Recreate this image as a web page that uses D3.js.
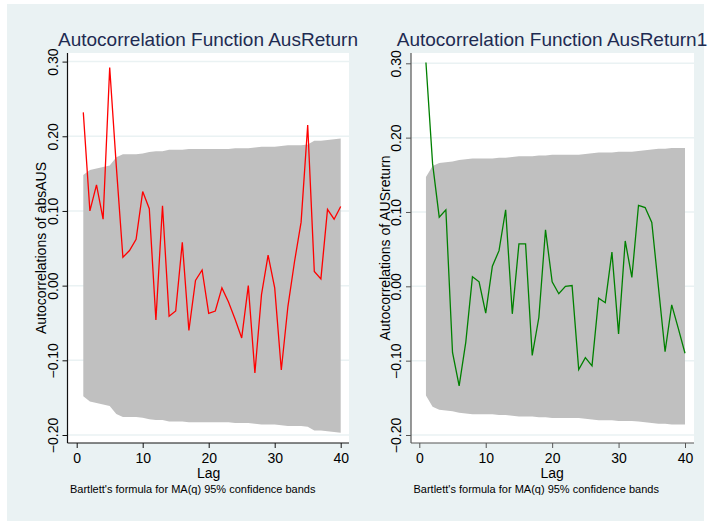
<!DOCTYPE html>
<html>
<head>
<meta charset="utf-8">
<script src="https://cdn.jsdelivr.net/npm/d3@7"></script>
<style>
  body { margin: 0; background: #fff; }
  svg { display: block; font-family: "Liberation Sans", Arial, sans-serif; }
</style>
</head>
<body>
<svg id="chart"></svg>
<script>
const width = 709;
const height = 521;

// lags 1..40
var lags = d3.range(1, 41);

// AusReturn (abs) autocorrelations
var acfAbs = [0.232, 0.100, 0.135, 0.089, 0.292, 0.160, 0.038, 0.047, 0.062, 0.126,
              0.103, -0.046, 0.107, -0.041, -0.034, 0.058, -0.060, 0.007, 0.021, -0.037,
              -0.034, -0.003, -0.022, -0.045, -0.070, 0.000, -0.117, -0.012, 0.041, -0.003,
              -0.113, -0.028, 0.032, 0.085, 0.215, 0.019, 0.009, 0.102, 0.089, 0.106];
var bandAbs = [0.148, 0.155, 0.157, 0.159, 0.161, 0.172, 0.176, 0.176, 0.176, 0.177,
               0.179, 0.180, 0.180, 0.182, 0.182, 0.182, 0.183, 0.183, 0.183, 0.183,
               0.183, 0.183, 0.183, 0.184, 0.184, 0.184, 0.185, 0.186, 0.186, 0.186,
               0.187, 0.188, 0.188, 0.188, 0.189, 0.194, 0.194, 0.195, 0.196, 0.197];

// AusReturn1 autocorrelations
var acfRet = [0.301, 0.165, 0.093, 0.103, -0.089, -0.134, -0.075, 0.013, 0.006, -0.036,
              0.027, 0.048, 0.103, -0.037, 0.057, 0.057, -0.093, -0.042, 0.076, 0.006,
              -0.010, 0.000, 0.001, -0.112, -0.096, -0.107, -0.016, -0.022, 0.046, -0.064,
              0.061, 0.012, 0.109, 0.106, 0.086, -0.001, -0.088, -0.025, -0.057, -0.090];
var bandRet = [0.147, 0.162, 0.166, 0.167, 0.168, 0.170, 0.171, 0.172, 0.172, 0.172,
               0.172, 0.173, 0.173, 0.174, 0.175, 0.175, 0.175, 0.176, 0.176, 0.177,
               0.177, 0.177, 0.177, 0.177, 0.178, 0.179, 0.180, 0.180, 0.180, 0.181,
               0.181, 0.181, 0.182, 0.183, 0.184, 0.185, 0.185, 0.186, 0.186, 0.186];

var yTicks = [-0.2, -0.1, 0, 0.1, 0.2, 0.3];
var xTicks = [0, 10, 20, 30, 40];

var titles = ["Autocorrelation Function AusReturn", "Autocorrelation Function AusReturn1"];
var yTitles = ["Autocorrelations of absAUS", "Autocorrelations of AUSreturn"];
var note = "Bartlett's formula for MA(q) 95% confidence bands";

var svg = d3.select("#chart").attr("width", width).attr("height", height);

svg.append("rect").attr("x", 7).attr("y", 4).attr("width", 697).attr("height", 517)
  .attr("fill", "#eaf2f3");

var panels = [
  {acf: acfAbs, band: bandAbs, color: "#ff0000", axisColor: "#111",
   left: 67.5, right: 349, top: 53, bottom: 443,
   xr: [76.7, 340.7], yr: [435, 61.6], title: titles[0], ytitle: yTitles[0], titleX: 208, ytX: 46},
  {acf: acfRet, band: bandRet, color: "#008000", axisColor: "#555",
   left: 411, right: 694, top: 53, bottom: 443,
   xr: [419.3, 685], yr: [435, 63.3], title: titles[1], ytitle: yTitles[1], titleX: 552, ytX: 390}
];

panels.forEach(function(p) {
  var g = svg.append("g");
  var x = d3.scaleLinear().domain([0, 40]).range(p.xr);
  var y = d3.scaleLinear().domain([-0.2, 0.3]).range(p.yr);

  // plot region
  g.append("rect").attr("x", p.left).attr("y", p.top)
    .attr("width", p.right - p.left).attr("height", p.bottom - p.top)
    .attr("fill", "#fff");

  // grid
  g.selectAll(".grid").data(yTicks).enter().append("line")
    .attr("x1", p.left).attr("x2", p.right)
    .attr("y1", d => y(d)).attr("y2", d => y(d))
    .attr("stroke", "#eaf2f3").attr("stroke-width", 1.5);

  // confidence band
  var area = d3.area()
    .x((d, i) => x(lags[i]))
    .y0(d => y(-d))
    .y1(d => y(d));
  g.append("path").datum(p.band).attr("d", area).attr("fill", "#c0c0c0");

  // acf line
  var line = d3.line().x((d, i) => x(lags[i])).y(d => y(d));
  g.append("path").datum(p.acf).attr("d", line)
    .attr("fill", "none").attr("stroke", p.color).attr("stroke-width", 1.3)
    .attr("stroke-linejoin", "miter");

  // y axis
  var yAxis = d3.axisLeft(y).tickValues(yTicks).tickSize(5).tickFormat(d3.format(".2f"));
  var ya = g.append("g").attr("transform", `translate(${p.left},0)`).call(yAxis);
  ya.select(".domain").attr("d", `M0,${p.top}V${p.bottom}`).attr("stroke", p.axisColor).attr("stroke-width", 1.2);
  ya.selectAll(".tick line").attr("stroke", p.axisColor);
  ya.selectAll(".tick text")
    .attr("x", null).attr("dy", null)
    .attr("transform", "translate(-10,0) rotate(-90)")
    .attr("text-anchor", "middle")
    .attr("font-size", 14).attr("font-family", "Liberation Sans, Arial, sans-serif")
    .attr("fill", "#000");

  // x axis
  var xAxis = d3.axisBottom(x).tickValues(xTicks).tickSize(5);
  var xa = g.append("g").attr("transform", `translate(0,${p.bottom})`).call(xAxis);
  xa.select(".domain").attr("d", `M${p.left},0H${p.right}`).attr("stroke", p.axisColor).attr("stroke-width", 1.2);
  xa.selectAll(".tick line").attr("stroke", p.axisColor);
  xa.selectAll(".tick text").attr("y", 7).attr("dy", "0.9em")
    .attr("font-size", 14).attr("font-family", "Liberation Sans, Arial, sans-serif")
    .attr("fill", "#000");

  // titles
  g.append("text").attr("x", p.titleX).attr("y", 46).attr("text-anchor", "middle")
    .attr("font-size", 19).attr("fill", "#1e2b52").text(p.title);
  g.append("text").attr("transform", `translate(${p.ytX},${(p.top + p.bottom) / 2}) rotate(-90)`)
    .attr("text-anchor", "middle").attr("font-size", 14).attr("fill", "#000").text(p.ytitle);
  g.append("text").attr("x", (p.xr[0] + p.xr[1]) / 2).attr("y", 478).attr("text-anchor", "middle")
    .attr("font-size", 14).attr("fill", "#000").text("Lag");
  g.append("text").attr("x", p.left + 2.5).attr("y", 493)
    .attr("font-size", 11).attr("fill", "#000").text(note);
});
</script>
</body>
</html>
